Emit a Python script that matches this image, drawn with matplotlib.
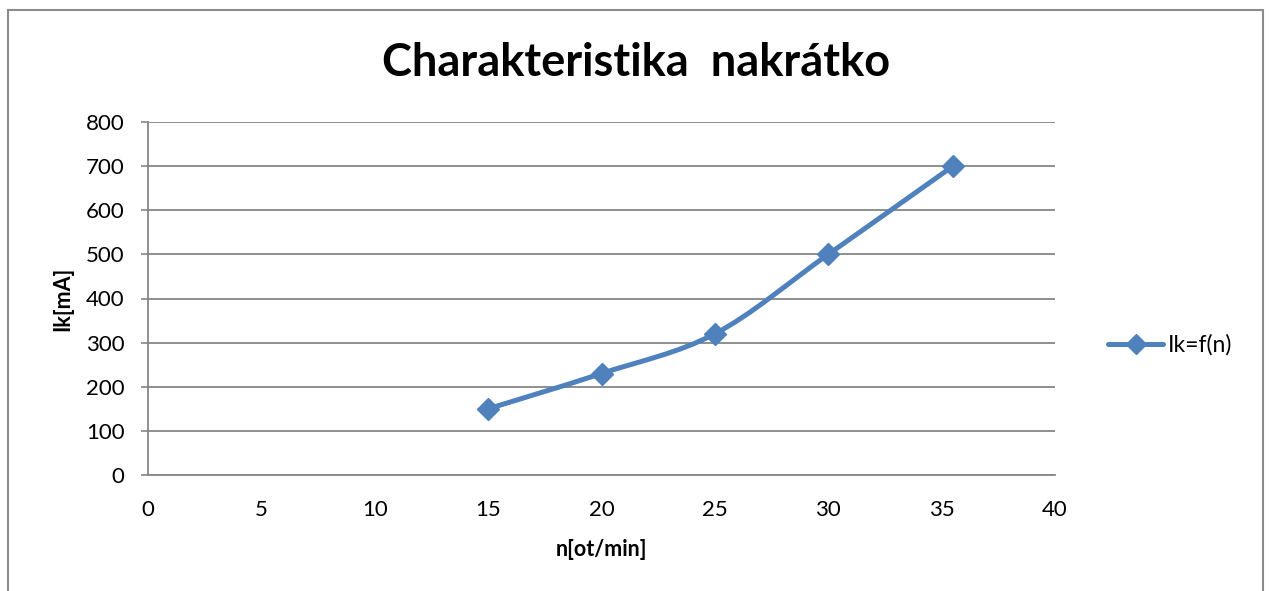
import numpy as np
import matplotlib
matplotlib.use("Agg")
import matplotlib.pyplot as plt
from matplotlib.patches import Rectangle
from matplotlib.path import Path
from matplotlib.patches import PathPatch
from matplotlib.lines import Line2D

plt.rcParams['font.family'] = ['Lato', 'DejaVu Sans']

n_values = [15, 20, 25, 30, 35.5]
ik_values = [150, 230, 320, 500, 700]
series_label = "Ik=f(n)"
title = "Charakteristika  nakrátko"
xlabel = "n[ot/min]"
ylabel = "Ik[mA]"
x_ticks = [0, 5, 10, 15, 20, 25, 30, 35, 40]
y_ticks = [0, 100, 200, 300, 400, 500, 600, 700, 800]

color = "#4F81BD"
grid_color = "#868686"

fig = plt.figure(figsize=(12.69, 5.91), dpi=100)
ax = fig.add_axes([148/1269, 1-475/591, (1055-148)/1269, (475-122)/591])
ax.set_xlim(0, 40)
ax.set_ylim(0, 800)
ax.set_xticks(x_ticks)
ax.set_yticks(y_ticks)
ax.tick_params(axis='both', labelsize=16, colors='black')
ax.tick_params(axis='x', length=0, pad=18)
ax.tick_params(axis='y', length=5, width=1.2, color=grid_color, pad=12)
ax.grid(axis='y', color=grid_color, linewidth=1.3)
ax.set_axisbelow(True)
for s in ['top', 'right']:
    ax.spines[s].set_visible(False)
for s in ['left', 'bottom']:
    ax.spines[s].set_color(grid_color)
    ax.spines[s].set_linewidth(1.3)

# smoothed line (Catmull-Rom -> cubic Bezier), computed in display space
pts = ax.transData.transform(np.column_stack([n_values, ik_values]))
verts = [pts[0]]
codes = [Path.MOVETO]
N = len(pts)
for i in range(N - 1):
    p0 = pts[i - 1] if i > 0 else pts[i]
    p1 = pts[i]
    p2 = pts[i + 1]
    p3 = pts[i + 2] if i + 2 < N else pts[i + 1]
    c1 = p1 + (p2 - p0) / 6
    c2 = p2 - (p3 - p1) / 6
    verts += [c1, c2, p2]
    codes += [Path.CURVE4] * 3
path = Path(ax.transData.inverted().transform(np.array(verts)), codes)
ax.add_patch(PathPatch(path, facecolor='none', edgecolor=color, linewidth=3.6,
                       capstyle='round', joinstyle='round', zorder=3))
ax.plot(n_values, ik_values, linestyle='none', marker='D', markersize=11,
        color=color, zorder=4)

ax.set_xlabel(xlabel, fontsize=15.5, fontweight='bold', labelpad=14)
ax.set_ylabel(ylabel, fontsize=15.5, fontweight='bold', labelpad=9)

fig.text(636/1269, 1-63/591, title, fontsize=32.5, fontweight='bold',
         ha='center', va='center')

handle = Line2D([], [], color=color, linewidth=3.6, marker='D', markersize=10,
                solid_capstyle='round')
fig.legend([handle], [series_label], loc='center left',
           bbox_to_anchor=(1099/1269, 1-345/591), frameon=False, fontsize=16.5,
           handlelength=2.4, handletextpad=0.2, borderaxespad=0)

fig.patches.append(Rectangle((8/1269, -0.05), (1263-8)/1269, 1.05-10/591,
                             transform=fig.transFigure, fill=False,
                             edgecolor='#8c8c8c', linewidth=1.5))

fig.savefig("out.png", dpi=100)
